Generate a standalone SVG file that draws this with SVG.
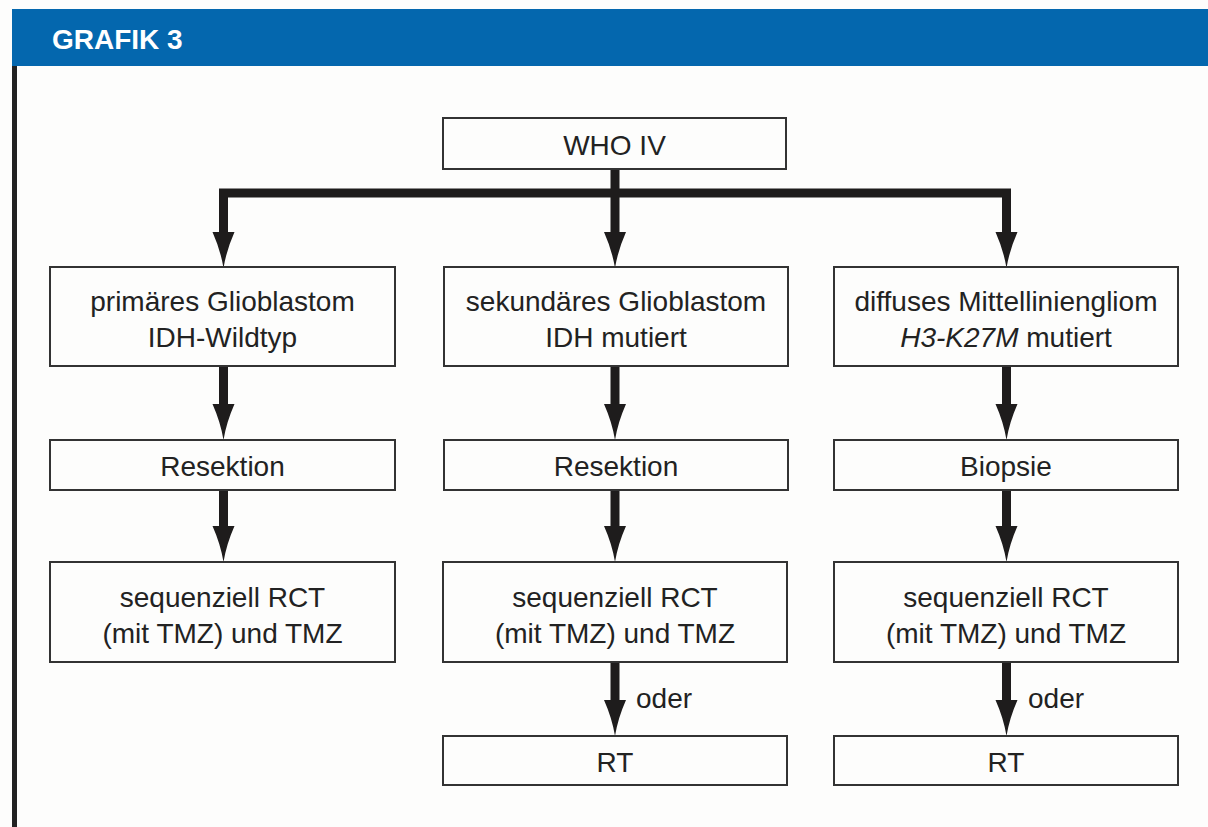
<svg xmlns="http://www.w3.org/2000/svg" xmlns:xlink="http://www.w3.org/1999/xlink" width="1208" height="827" viewBox="0 0 1208 827">
<style>
.box{fill:#fdfdfc;stroke:#333;stroke-width:2}
.t{font-family:"Liberation Sans",Arial,sans-serif;font-size:28px;fill:#222;text-anchor:middle}
.lbl{font-family:"Liberation Sans",Arial,sans-serif;font-size:28px;fill:#222}
.conn{fill:none;stroke:#1e1c1c;stroke-width:9;stroke-linejoin:miter}
.ah{fill:#1e1c1c}
</style>
<defs>
<path id="ah" class="ah" d="M0,0 Q-3,-18 -11,-36 L11,-36 Q3,-18 0,0 Z"/>
</defs>
<rect x="0" y="0" width="1208" height="827" fill="#fdfdfc"/>
<g id="header">
<rect x="12" y="9" width="1196" height="57" fill="#0467ae"/>
<text x="52" y="49" font-family="'Liberation Sans',Arial,sans-serif" font-size="28" font-weight="bold" fill="#ffffff">GRAFIK 3</text>
<rect x="12" y="66" width="5" height="761" fill="#222"/>
</g>
<g id="connectors">
<path class="conn" d="M223.5,238 V193 H1006.5 V238"/>
<path class="conn" d="M615,169 V238"/>
<use xlink:href="#ah" x="223.5" y="268"/>
<use xlink:href="#ah" x="615" y="268"/>
<use xlink:href="#ah" x="1006.5" y="268"/>
<path class="conn" d="M223.5,366 V410"/>
<path class="conn" d="M615,366 V410"/>
<path class="conn" d="M1006.5,366 V410"/>
<use xlink:href="#ah" x="223.5" y="440"/>
<use xlink:href="#ah" x="615" y="440"/>
<use xlink:href="#ah" x="1006.5" y="440"/>
<path class="conn" d="M223.5,490 V532"/>
<path class="conn" d="M615,490 V532"/>
<path class="conn" d="M1006.5,490 V532"/>
<use xlink:href="#ah" x="223.5" y="562"/>
<use xlink:href="#ah" x="615" y="562"/>
<use xlink:href="#ah" x="1006.5" y="562"/>
<path class="conn" d="M615,662 V706"/>
<path class="conn" d="M1006.5,662 V706"/>
<use xlink:href="#ah" x="615" y="736"/>
<use xlink:href="#ah" x="1006.5" y="736"/>
<text class="lbl" x="636" y="708">oder</text>
<text class="lbl" x="1028" y="708">oder</text>
</g>
<g id="who4">
<rect class="box" x="443" y="118" width="343" height="51"/>
<text class="t" x="614.5" y="155">WHO IV</text>
</g>
<g id="primaer">
<rect class="box" x="50" y="267" width="345" height="99"/>
<text class="t" x="222.5" y="311">primäres Glioblastom</text>
<text class="t" x="222.5" y="347">IDH-Wildtyp</text>
</g>
<g id="sekundaer">
<rect class="box" x="444" y="267" width="344" height="99"/>
<text class="t" x="616" y="311">sekundäres Glioblastom</text>
<text class="t" x="616" y="347">IDH mutiert</text>
</g>
<g id="mittellinie">
<rect class="box" x="834" y="267" width="344" height="99"/>
<text class="t" x="1006" y="311">diffuses Mittelliniengliom</text>
<text class="t" x="1006" y="347"><tspan font-style="italic">H3-K27M</tspan> mutiert</text>
</g>
<g id="resektion1">
<rect class="box" x="50" y="440" width="345" height="50"/>
<text class="t" x="222.5" y="476">Resektion</text>
</g>
<g id="resektion2">
<rect class="box" x="444" y="440" width="344" height="50"/>
<text class="t" x="616" y="476">Resektion</text>
</g>
<g id="biopsie">
<rect class="box" x="834" y="440" width="344" height="50"/>
<text class="t" x="1006" y="476">Biopsie</text>
</g>
<g id="rct1">
<rect class="box" x="50" y="562" width="345" height="100"/>
<text class="t" x="222.5" y="607">sequenziell RCT</text>
<text class="t" x="222.5" y="643">(mit TMZ) und TMZ</text>
</g>
<g id="rct2">
<rect class="box" x="443" y="562" width="344" height="100"/>
<text class="t" x="615" y="607">sequenziell RCT</text>
<text class="t" x="615" y="643">(mit TMZ) und TMZ</text>
</g>
<g id="rct3">
<rect class="box" x="834" y="562" width="344" height="100"/>
<text class="t" x="1006" y="607">sequenziell RCT</text>
<text class="t" x="1006" y="643">(mit TMZ) und TMZ</text>
</g>
<g id="rt2">
<rect class="box" x="443" y="736" width="344" height="49"/>
<text class="t" x="615" y="772">RT</text>
</g>
<g id="rt3">
<rect class="box" x="834" y="736" width="344" height="49"/>
<text class="t" x="1006" y="772">RT</text>
</g>
</svg>
